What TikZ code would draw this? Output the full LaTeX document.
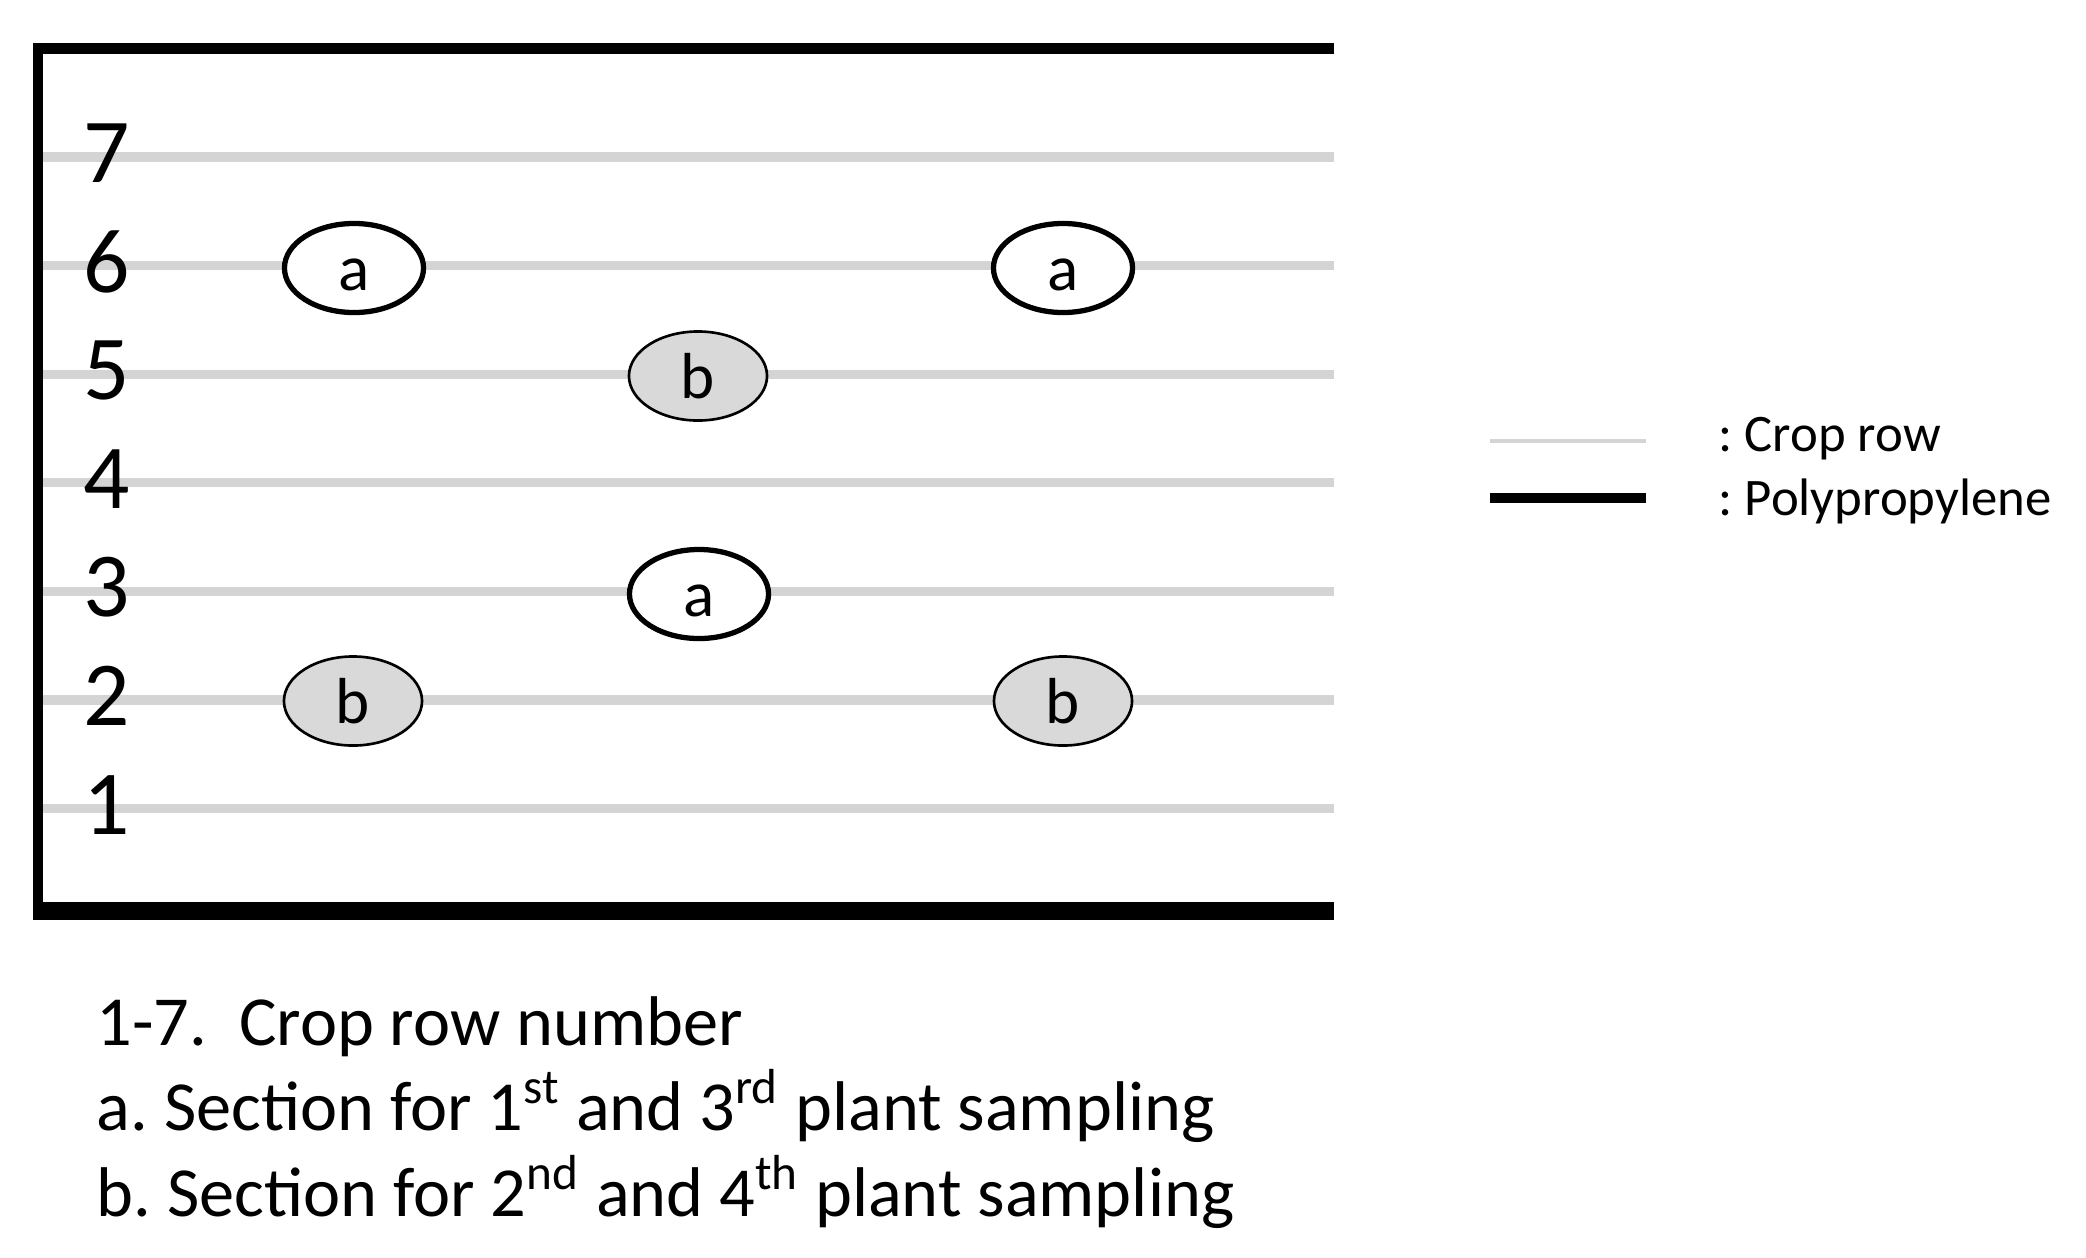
\documentclass[tikz,border=0pt]{standalone}
\usepackage{fontspec}
\setmainfont{Carlito}
\usetikzlibrary{shapes.geometric}
\definecolor{rowgray}{RGB}{212,212,212}
\definecolor{secgray}{RGB}{217,217,217}
\frenchspacing
\begin{document}
\begin{tikzpicture}[x=0.01cm, y=-0.01cm,
    croprow/.style={draw=rowgray, line width=2.6pt},
    pp/.style={draw=black, line width=#1},
    rownum/.style={font=\fontsize{26}{26}\selectfont, inner sep=0pt},
    secA/.style={ellipse, draw, line width=1.5pt, fill=white, inner sep=0pt,
        minimum width=1.39cm, minimum height=0.89cm, text height=13pt, text depth=0pt,
        font=\fontsize{18.5}{18.5}\selectfont},
    secB/.style={ellipse, draw, line width=0.75pt, fill=secgray, inner sep=0pt,
        minimum width=1.38cm, minimum height=0.89cm, text height=13pt, text depth=0pt,
        font=\fontsize{18.5}{18.5}\selectfont},
    legtext/.style={anchor=base west, inner sep=0pt, font=\fontsize{15}{15}\selectfont},
    note/.style={anchor=base west, inner sep=0pt, font=\fontsize{20}{20}\selectfont}]
    \useasboundingbox (0,0) rectangle (2086,1257);

    % crop rows and their numbers
    \foreach \r in {1,...,7} {
        \draw[croprow] (43, {157+(7-\r)*108.6}) -- (1334, {157+(7-\r)*108.6});
        \node[rownum] (n\r) at (107, {153+(7-\r)*108.6}) {\r};
    }

    % polypropylene frame
    \draw[pp=2.85pt] (38, 43) -- (38, 920);
    \draw[pp=3.1pt] (33, 48.5) -- (1334, 48.5);
    \draw[pp=5.1pt] (33, 911) -- (1334, 911);

    % sampling sections
    \node[secA] (a1) at (354, 268) {a};
    \node[secA] (a2) at (1063, 268) {a};
    \node[secA] (a3) at (699, 594) {a};
    \node[secB] (b1) at (698, 376) {b};
    \node[secB] (b2) at (353, 701) {b};
    \node[secB] (b3) at (1063, 701) {b};

    % legend
    \draw[draw=rowgray, line width=1.4pt] (1490, 441) -- (1646, 441);
    \draw[pp=2.85pt] (1490, 498) -- (1646, 498);
    \node[legtext] (lrow) at (1718, 451) {: Crop row};
    \node[legtext] (lpp) at (1718, 515) {: Polypropylene};

    % notes
    \node[note] (t1) at (96, 1045) {1-7.~ Crop row number};
    \node[note] (t2) at (96, 1130) {a. Section for 1\textsuperscript{st} and 3\textsuperscript{rd} plant sampling};
    \node[note] (t3) at (96, 1216) {b. Section for 2\textsuperscript{nd} and 4\textsuperscript{th} plant sampling};
\end{tikzpicture}
\end{document}
